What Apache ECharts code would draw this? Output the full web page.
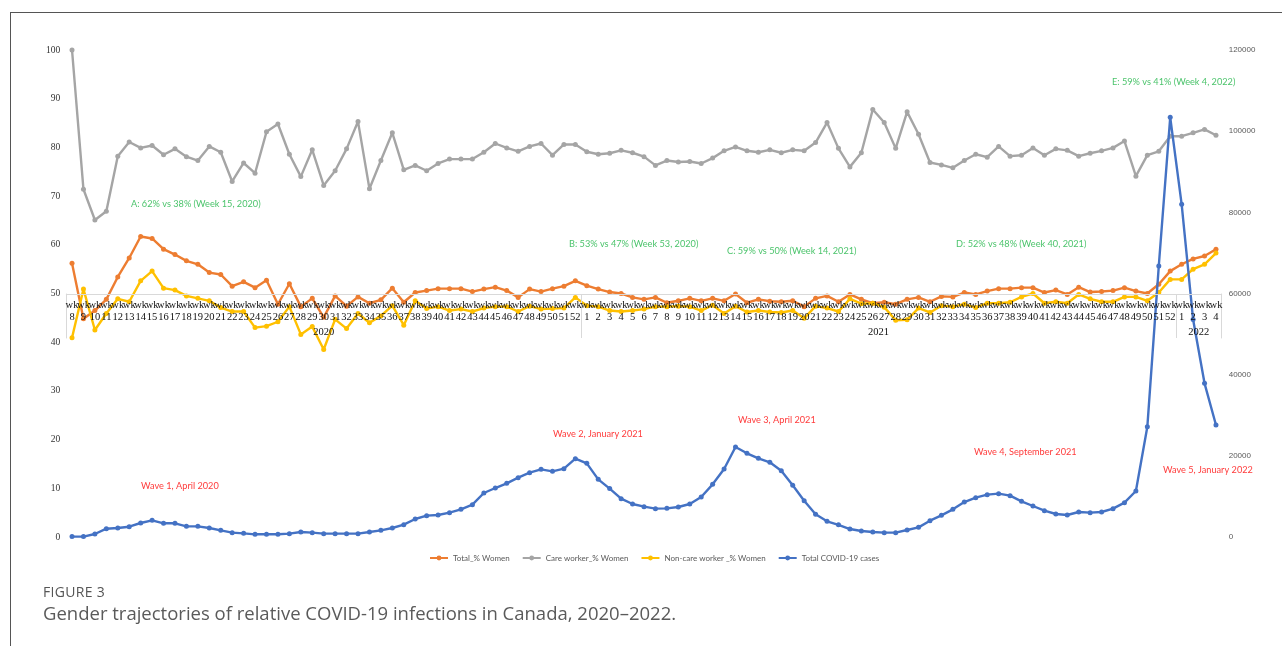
<!DOCTYPE html>
<html><head><meta charset="utf-8">
<script src="https://cdn.jsdelivr.net/npm/echarts@6/dist/echarts.min.js"></script>
<style>
html,body{margin:0;padding:0;background:#fff;width:1282px;height:646px;overflow:hidden;}
#frame{position:absolute;left:10px;top:12px;width:1280px;height:640px;border-left:1px solid #555;border-top:1px solid #555;}
#chart{position:absolute;left:0;top:0;width:1282px;height:646px;}
.fig{position:absolute;left:43px;top:582px;font-family:'Open Sans',sans-serif;font-size:14px;color:#555;letter-spacing:0.3px;white-space:nowrap;}
.cap{position:absolute;left:43px;top:600px;font-family:'Open Sans',sans-serif;font-size:18.5px;color:#5a5a5a;white-space:nowrap;}
</style></head><body>
<div id="frame"></div>
<div id="chart"></div>
<div class="fig">FIGURE 3</div>
<div class="cap">Gender trajectories of relative COVID-19 infections in Canada, 2020–2022.</div>
<script>
// ---- data ----
const years = ['2020', '2021', '2022'];
const weeks2020 = [8,9,10,11,12,13,14,15,16,17,18,19,20,21,22,23,24,25,26,27,28,29,30,31,32,33,34,35,36,37,38,39,40,41,42,43,44,45,46,47,48,49,50,51,52];
const weeks2021 = [1,2,3,4,5,6,7,8,9,10,11,12,13,14,15,16,17,18,19,20,21,22,23,24,25,26,27,28,29,30,31,32,33,34,35,36,37,38,39,40,41,42,43,44,45,46,47,48,49,50,51,52];
const weeks2022 = [1,2,3,4];

const totalWomen = [56.2,44.8,46.5,48.8,53.4,57.3,61.7,61.3,59.1,58.0,56.7,56.0,54.3,53.9,51.5,52.4,51.2,52.7,47.8,52.0,47.3,49.0,45.1,49.5,47.4,
  49.3,48.0,48.7,51.1,48.2,50.2,50.6,51.0,51.0,51.0,50.4,50.9,51.3,50.6,49.2,50.9,50.4,51.0,51.5,52.6,51.6,50.9,50.3,50.0,49.2,
  48.8,49.2,48.1,48.5,49.0,48.5,49.0,48.5,49.9,48.1,48.8,48.4,48.3,48.5,47.3,49.0,49.5,48.3,49.8,48.8,48.0,48.2,47.8,48.8,49.2,
  48.3,49.4,49.3,50.2,49.8,50.5,51.0,51.0,51.2,51.2,50.2,50.7,49.8,51.3,50.3,50.4,50.6,51.2,50.5,50.0,51.9,54.6,56.0,57.1,57.7,59.1];
const careWomen = [100,71.4,65.1,66.9,78.2,81.1,79.9,80.4,78.5,79.7,78.1,77.3,80.2,79.0,73.0,76.8,74.7,83.2,84.8,78.6,74.0,79.5,72.2,75.2,79.7,
  85.3,71.5,77.3,83.0,75.4,76.3,75.2,76.7,77.6,77.6,77.6,79.0,80.8,79.9,79.2,80.2,80.8,78.4,80.6,80.6,79.1,78.6,78.8,79.4,78.9,
  78.1,76.3,77.3,77.0,77.1,76.7,77.8,79.3,80.1,79.3,79.0,79.5,78.9,79.5,79.3,81.0,85.1,79.8,76.0,78.9,87.8,85.1,79.8,87.3,82.7,
  76.9,76.4,75.8,77.3,78.6,78.0,80.2,78.2,78.4,79.9,78.4,79.7,79.4,78.2,78.8,79.3,79.9,81.3,74.1,78.4,79.2,82.3,82.3,83.0,83.7,82.5];
const nonCareWomen = [40.9,50.9,42.5,45.9,48.9,48.3,52.6,54.6,51.1,50.7,49.5,49.0,48.5,47.1,46.3,46.3,43.0,43.3,44.2,47.3,41.6,43.2,38.5,44.7,42.8,
  45.9,44.0,45.4,47.5,43.5,48.5,46.9,47.3,46.5,46.8,46.3,47.0,47.3,47.3,46.3,47.4,46.8,46.9,47.0,49.2,47.5,47.3,46.5,46.3,46.5,
  46.8,47.3,47.3,47.4,47.3,46.5,47.6,45.9,47.4,46.2,46.5,46.2,46.1,46.5,44.9,47.4,47.0,46.3,48.9,47.9,48.0,47.2,44.5,44.6,47.0,
  46.1,47.5,47.3,47.8,47.1,48.0,48.0,48.2,49.3,50.0,48.0,48.3,48.0,49.8,48.9,48.3,48.3,49.3,49.3,48.5,50.2,52.9,52.9,55.0,56.0,58.3];
const totalCases = [100,100,740,2050,2220,2540,3450,4110,3370,3370,2630,2630,2220,1640,1070,900,660,660,660,820,1230,1070,820,820,820,820,1230,1640,2220,3040,4430,5260,5420,6000,
  6820,7970,10840,12070,13230,14620,15850,16670,16180,16840,19300,18150,14210,11920,9450,8130,7470,6980,7060,7390,8130,9860,12980,16760,22180,20620,19390,18410,16340,12740,8940,5590,3870,3000,
  1970,1480,1230,1070,1070,1720,2380,4020,5340,6820,8620,9690,10430,10680,10180,8790,7640,6480,5670,5420,6160,6000,6160,6980,8460,11330,27180,66770,103400,81980,53600,37870,27600];

const leftTicks = {min: 0, max: 100, interval: 10};
const rightTicks = {min: 0, max: 120000, interval: 20000};

const seriesNames = ['Total_% Women', 'Care worker_% Women', 'Non-care worker _% Women', 'Total COVID-19 cases'];
const seriesColors = ['#ED7D31', '#A5A5A5', '#FFC000', '#4472C4'];

const annotationsGreen = [
  {text: 'A: 62% vs 38% (Week 15, 2020)', x: 131, y: 204},
  {text: 'B: 53% vs 47% (Week 53, 2020)', x: 569, y: 244},
  {text: 'C: 59% vs 50% (Week 14, 2021)', x: 727, y: 251},
  {text: 'D: 52% vs 48% (Week 40, 2021)', x: 956, y: 244},
  {text: 'E: 59% vs 41% (Week 4, 2022)', x: 1112, y: 82}
];
const annotationsRed = [
  {text: 'Wave 1, April 2020', x: 141, y: 486},
  {text: 'Wave 2, January 2021', x: 553, y: 434},
  {text: 'Wave 3, April 2021', x: 738, y: 420},
  {text: 'Wave 4, September 2021', x: 974, y: 452},
  {text: 'Wave 5, January 2022', x: 1163, y: 470}
];

// ---- build categories ----
const groups = [weeks2020, weeks2021, weeks2022];
const cats = [];
const groupStart = [];
groups.forEach((g, gi) => {
  groupStart.push(cats.length);
  g.forEach(w => cats.push(years[gi] + '-' + w));
});
groupStart.push(cats.length);

const chart = echarts.init(document.getElementById('chart'), null, {renderer: 'canvas'});
const GL = 66.3, GR = 60.3;

const mkSeries = (i, data, yIdx) => ({
  name: seriesNames[i], type: 'line', xAxisIndex: 0, yAxisIndex: yIdx, data: data,
  symbol: 'circle', symbolSize: 5, showSymbol: true,
  lineStyle: {width: 2.4, color: seriesColors[i]},
  itemStyle: {color: seriesColors[i]},
  z: 3 + i, animation: false
});

chart.setOption({
  animation: false,
  grid: [
    {left: GL, right: GR, top: 50, bottom: 109},
    {left: GL, right: GR, top: 294, height: 44}
  ],
  legend: {
    left: 424, top: 549, itemWidth: 18, itemHeight: 6, itemGap: 12,
    textStyle: {fontSize: 8, color: '#595959', fontFamily: 'Lato'},
    data: seriesNames
  },
  xAxis: [
    {gridIndex: 0, type: 'category', data: cats, boundaryGap: true, show: false},
    {gridIndex: 1, type: 'category', data: cats, boundaryGap: true, position: 'top', z: 10,
     axisLine: {show: true, onZero: false, lineStyle: {color: '#d9d9d9', width: 1}},
     axisTick: {show: true, inside: true, length: 44, interval: (i) => i === groupStart[1] || i === groupStart[2],
       lineStyle: {color: '#d9d9d9'}},
     axisLabel: {show: true, inside: true, interval: 0, margin: 5,
       formatter: (v) => 'wk\n' + v.split('-')[1],
       fontFamily: 'Liberation Serif', fontSize: 10.5, lineHeight: 12, color: '#111'},
     splitLine: {show: false}}
  ],
  yAxis: [
    {gridIndex: 0, type: 'value', position: 'left', min: leftTicks.min, max: leftTicks.max, interval: leftTicks.interval,
     axisLine: {show: false}, axisTick: {show: false}, splitLine: {show: false},
     axisLabel: {margin: 6, fontFamily: 'Liberation Serif', fontSize: 9.5, color: '#333'}},
    {gridIndex: 0, type: 'value', position: 'right', min: rightTicks.min, max: rightTicks.max, interval: rightTicks.interval,
     axisLine: {show: false}, axisTick: {show: false}, splitLine: {show: false},
     axisLabel: {margin: 7, fontFamily: 'Liberation Sans', fontSize: 8, color: '#595959', formatter: (v) => String(v)}},
    {gridIndex: 1, type: 'value', position: 'left', axisLine: {show: true, onZero: false, lineStyle: {color: '#d9d9d9'}},
     axisTick: {show: false}, axisLabel: {show: false}, splitLine: {show: false}},
    {gridIndex: 1, type: 'value', position: 'right', axisLine: {show: true, onZero: false, lineStyle: {color: '#d9d9d9'}},
     axisTick: {show: false}, axisLabel: {show: false}, splitLine: {show: false}}
  ],
  series: [
    mkSeries(0, totalWomen, 0),
    mkSeries(1, careWomen, 0),
    mkSeries(2, nonCareWomen, 0),
    mkSeries(3, totalCases, 1)
  ]
});

// year group labels centred under each group, positioned through the axis scale
const graphics = [];
for (let g = 0; g < years.length; g++) {
  const a = chart.convertToPixel({xAxisIndex: 1}, groupStart[g]);
  const b = chart.convertToPixel({xAxisIndex: 1}, groupStart[g + 1] - 1);
  graphics.push({type: 'text', x: (a + b) / 2, y: 332, z: 20,
    style: {text: years[g], fill: '#111', font: '10.5px "Liberation Serif"', textAlign: 'center', textVerticalAlign: 'middle'}});
}
annotationsGreen.forEach(a => graphics.push({type: 'text', x: a.x, y: a.y, z: 20,
  style: {text: a.text, fill: '#4cc46c', font: '9.2px Lato', textAlign: 'left', textVerticalAlign: 'middle'}}));
annotationsRed.forEach(a => graphics.push({type: 'text', x: a.x, y: a.y, z: 20,
  style: {text: a.text, fill: '#ff3b3b', font: '9.2px Lato', textAlign: 'left', textVerticalAlign: 'middle'}}));
chart.setOption({graphic: graphics});
</script>
</body></html>
